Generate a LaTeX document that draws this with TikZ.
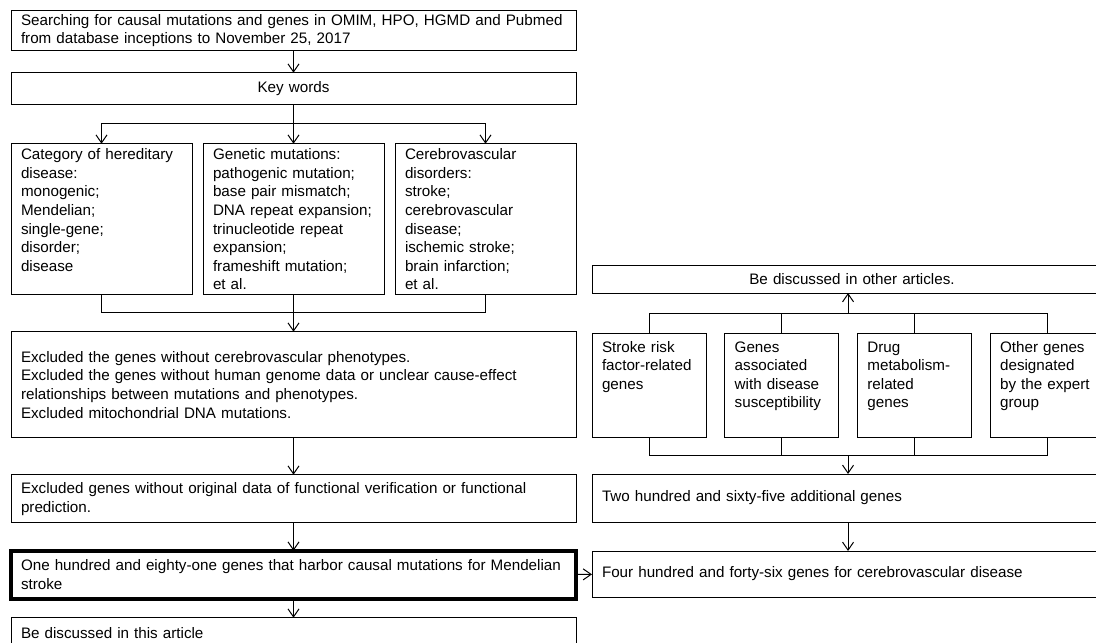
\documentclass[tikz,border=0pt]{standalone}
\usepackage{fontspec}
\setmainfont{Liberation Sans}
\usetikzlibrary{positioning,arrows.meta,calc}

\begin{document}
\begin{tikzpicture}[->,>={Straight Barb[length=8pt,width=11pt]},x=1pt,y=-1pt,line width=1pt,
    box/.style={draw,rectangle,align=left,inner xsep=10pt,inner ysep=4pt,outer sep=0pt,font=\fontsize{15.2}{18.6}\selectfont},
    wide/.style={box,text width=545pt},
    col/.style={box,text width=161pt,text height=12pt,text depth=131pt},
    side/.style={box,text width=94pt,text height=15pt,text depth=81pt},
    main/.style={wide,line width=4pt}]
    \useasboundingbox (0,0) rectangle (1096,643);
    \clip (0,0) rectangle (1096,643);
    \fill[white] (0,0) rectangle (1096,643);

    % left column
    \node[wide,minimum height=40pt,anchor=north west] (search) at (11,10) {Searching for causal mutations and genes in OMIM, HPO, HGMD and Pubmed\\from database inceptions to November 25, 2017};
    \node[wide,minimum height=32pt,align=center,below=22pt of search] (keys) {Key words};
    \node[col,below=39pt of keys.south west,anchor=north west] (cat) {Category of hereditary\\disease:\\monogenic;\\Mendelian;\\single-gene;\\disorder;\\disease};
    \node[col,right=11pt of cat] (gen) {Genetic mutations:\\pathogenic mutation;\\base pair mismatch;\\DNA repeat expansion;\\trinucleotide repeat\\expansion;\\frameshift mutation;\\et al.};
    \node[col,right=11pt of gen] (cere) {Cerebrovascular\\disorders:\\stroke;\\cerebrovascular\\disease;\\ischemic stroke;\\brain infarction;\\et al.};
    \node[wide,minimum height=106pt,below=37pt of cat.south west,anchor=north west] (excl) {Excluded the genes without cerebrovascular phenotypes.\\Excluded the genes without human genome data or unclear cause-effect\\relationships between mutations and phenotypes.\\Excluded mitochondrial DNA mutations.};
    \node[wide,minimum height=48pt,below=37pt of excl] (verif) {Excluded genes without original data of functional verification or functional\\prediction.};
    \node[main,minimum height=48pt,below=28pt of verif] (mendel) {One hundred and eighty-one genes that harbor causal mutations for Mendelian\\stroke};
    \node[wide,minimum height=30pt,below=19pt of mendel] (here) {Be discussed in this article};

    % right column
    \node[wide,text width=500pt,minimum height=28pt,align=center,anchor=north west] (other) at (592,265) {Be discussed in other articles.};
    \node[side,below=40pt of other.south west,anchor=north west] (risk) {Stroke risk\\factor-related\\genes};
    \node[side,right=18.7pt of risk] (assoc) {Genes\\associated\\with disease\\susceptibility};
    \node[side,right=18.7pt of assoc] (drug) {Drug\\metabolism-\\related\\genes};
    \node[side,right=18.7pt of drug] (expert) {Other genes\\designated\\by the expert\\group};
    \node[wide,text width=500pt,minimum height=48pt,below=37pt of risk.south west,anchor=north west] (two) {Two hundred and sixty-five additional genes};
    \node[wide,text width=500pt,minimum height=46pt,below=29pt of two] (four) {Four hundred and forty-six genes for cerebrovascular disease};

    \draw (search) -- (keys);
    \draw[-] (keys.south) -- ++(0,19) coordinate (split);
    \draw (split) -| (cat.north);
    \draw (split) -- (gen.north);
    \draw (split) -| (cere.north);
    \draw[-] (cat.south) -- ++(0,18) -| (cere.south);
    \draw[-] (gen.south) -- ++(0,18);
    \draw (gen.south) -- (excl.north);
    \draw (excl) -- (verif);
    \draw (verif) -- (mendel);
    \draw (mendel) -- (here);
    \draw (mendel) -- (four);

    \draw[-] (risk.north) -- ++(0,-20) -| (expert.north);
    \draw[-] (assoc.north) -- ++(0,-20);
    \draw[-] (drug.north) -- ++(0,-20);
    \coordinate (up) at ($(risk.north)!0.5!(expert.north)+(0,-20)$);
    \draw (up) -- (up |- other.south);
    \draw[-] (risk.south) -- ++(0,18) -| (expert.south);
    \draw[-] (assoc.south) -- ++(0,18);
    \draw[-] (drug.south) -- ++(0,18);
    \coordinate (down) at ($(risk.south)!0.5!(expert.south)+(0,18)$);
    \draw (down) -- (down |- two.north);
    \draw (two.south -| down) -- (four.north -| down);
\end{tikzpicture}
\end{document}
